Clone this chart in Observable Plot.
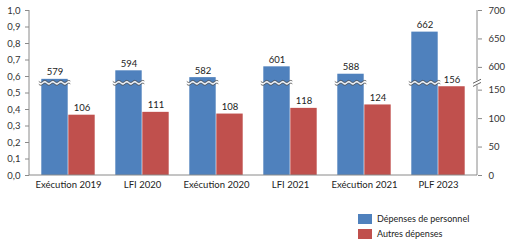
<!DOCTYPE html>
<html><head><meta charset="utf-8">
<script src="https://cdn.jsdelivr.net/npm/d3@7"></script>
<script src="https://cdn.jsdelivr.net/npm/@observablehq/plot@0.6"></script>
<style>
body{margin:0;background:#fff;font-family:Lato,"Open Sans",sans-serif;}
#legend{margin-left:358px;margin-top:16px;font-size:9px;color:#222;}
#legend .row{display:flex;align-items:center;height:15px;}
#legend .sw{width:14px;height:10px;margin-right:5px;}
</style></head><body><div id="chart"></div><div id="legend"></div><script>
const categories = ["Exécution 2019","LFI 2020","Exécution 2020","LFI 2021","Exécution 2021","PLF 2023"];
const seriesNames = ["Dépenses de personnel","Autres dépenses"];
const personnel = [579,594,582,601,588,662];
const autres = [106,111,108,118,124,156];
const leftTicks = [0,0.1,0.2,0.3,0.4,0.5,0.6,0.7,0.8,0.9,1.0];
const rightTicks = [0,50,100,150,600,650,700];
const seriesColors = ["#4F81BD","#C0504D"];
const breakAt = 162;      // position of the axis break (lower-segment units)
const breakOffset = 410;  // values above the break are shifted down by this amount
const topValue = 700;

const axisValue = v => v > breakAt ? v - breakOffset : v;
const yMax = axisValue(topValue);

const data = [];
categories.forEach((c, i) => {
  data.push({cat: c, series: seriesNames[0], value: personnel[i], y: axisValue(personnel[i])});
  data.push({cat: c, series: seriesNames[1], value: autres[i], y: axisValue(autres[i])});
});
const dP = data.filter(d => d.series === seriesNames[0]);
const dA = data.filter(d => d.series === seriesNames[1]);

const outer = 10.3, inner = 37.3, half = 13.5;

function decorations(index, scales, values, dimensions) {
  const {x, y} = scales;
  const {width, height, marginLeft, marginRight, marginTop, marginBottom} = dimensions;
  const g = d3.create("svg:g");
  const x0 = marginLeft, x1 = width - marginRight, yb = height - marginBottom, yt = marginTop;
  g.append("path").attr("d", `M${x0},${yt}V${yb}H${x1}V${yt}`)
    .attr("fill", "none").attr("stroke", "#8a8a8a").attr("stroke-width", 1);
  // right axis break
  const yBr = y(breakAt);
  g.append("rect").attr("x", x1 - 2).attr("y", yBr - 2.5).attr("width", 4).attr("height", 5).attr("fill", "#fff");
  [-1.6, 1.6].forEach(o => {
    g.append("line").attr("x1", x1 - 4).attr("y1", yBr + o + 2).attr("x2", x1 + 4).attr("y2", yBr + o - 2)
      .attr("stroke", "#555").attr("stroke-width", 0.9);
  });
  // wavy breaks on the personnel bars
  const bw = x.bandwidth();
  categories.forEach(c => {
    const left = x(c) + outer - 2.5, right = x(c) + bw / 2 + 2.5;
    const lam = 8, A = 1;
    const wave = (off) => d3.range(left, right + 0.01, 0.5).map(px => [px, yBr + off + A * Math.sin(2 * Math.PI * (px - left) / lam)]);
    const top = wave(-1.4), bot = wave(1.4);
    const line = d3.line();
    g.append("path").attr("d", line(top.concat(bot.slice().reverse())) + "Z").attr("fill", "#fff").attr("fill-opacity", 0.85).attr("stroke", "none");
    [top, bot].forEach(w => g.append("path").attr("d", line(w)).attr("fill", "none").attr("stroke", "#333").attr("stroke-width", 0.8));
  });
  return g.node();
}

const chart = Plot.plot({
  width: 511,
  height: 195,
  marginLeft: 29,
  marginRight: 34,
  marginTop: 10,
  marginBottom: 20,
  style: {fontFamily: "Lato, 'Open Sans', sans-serif", fontSize: "9.5px", color: "#333", background: "#fff"},
  x: {domain: categories, padding: 0, label: null},
  y: {domain: [0, yMax], label: null},
  marks: [
    Plot.barY(dP, {x: "cat", y: "y", fill: seriesColors[0], insetLeft: outer, insetRight: inner}),
    Plot.barY(dA, {x: "cat", y: "y", fill: seriesColors[1], insetLeft: inner, insetRight: outer}),
    Plot.axisY({anchor: "left", ticks: leftTicks.map(t => t * yMax), tickFormat: d => d3.format(".1f")(d / yMax).replace(".", ","), tickSize: 4, tickPadding: 5, label: null, stroke: "#8a8a8a", fill: "#333", fontSize: 9.5}),
    Plot.axisY({anchor: "right", ticks: rightTicks.map(axisValue), tickFormat: d => String(d > breakAt ? d + breakOffset : d), tickSize: 4, tickPadding: 7, label: null, stroke: "#8a8a8a", fill: "#333", fontSize: 9.5}),
    Plot.axisX({anchor: "bottom", tickSize: 0, tickPadding: 6, label: null, fill: "#222", fontSize: 9.5}),
    decorations,
    Plot.text(dP, {x: "cat", y: "y", text: d => String(d.value), dx: -half, dy: -7, fill: "#222", fontSize: 9.5}),
    Plot.text(dA, {x: "cat", y: "y", text: d => String(d.value), dx: half, dy: -7, fill: "#222", fontSize: 9.5})
  ]
});
document.getElementById("chart").appendChild(chart);

const legend = document.getElementById("legend");
seriesNames.forEach((s, i) => {
  const row = document.createElement("div");
  row.className = "row";
  row.innerHTML = `<span class="sw" style="background:${seriesColors[i]}"></span><span>${s}</span>`;
  legend.appendChild(row);
});
</script></body></html>
